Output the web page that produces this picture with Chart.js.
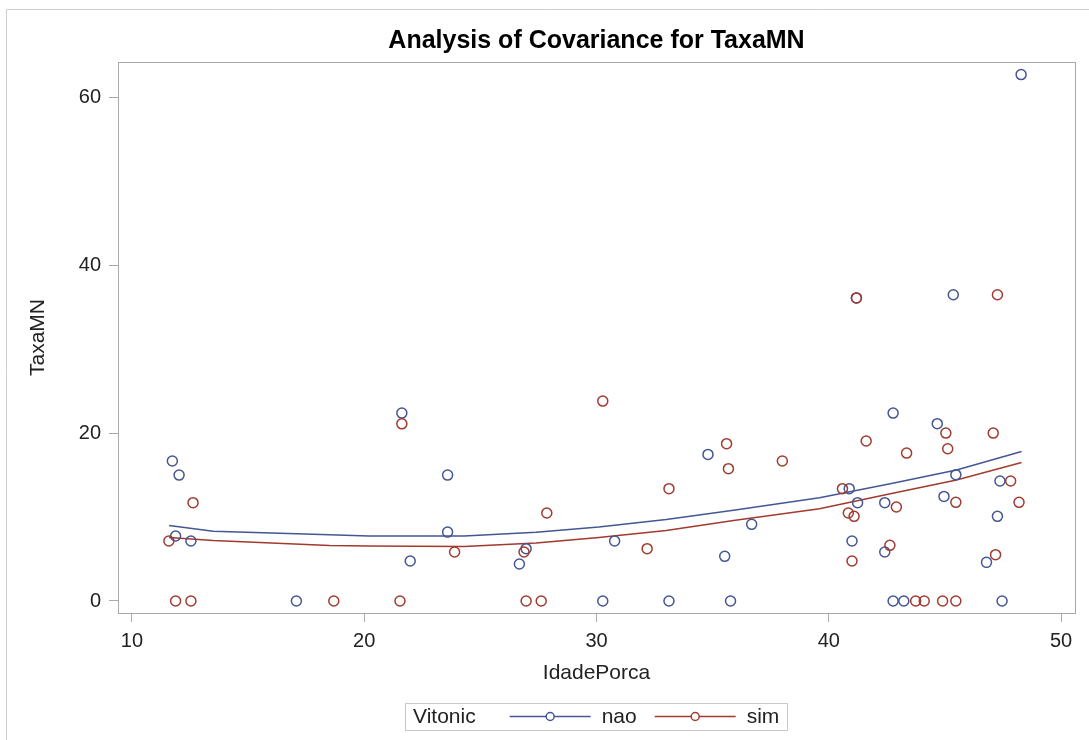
<!DOCTYPE html>
<html>
<head>
<meta charset="utf-8">
<title>Analysis of Covariance for TaxaMN</title>
<script src="https://cdn.jsdelivr.net/npm/chart.js@4.4.1/dist/chart.umd.min.js"></script>
<style>
  html, body { margin: 0; padding: 0; background: #fff; }
  canvas { display: block; }
</style>
</head>
<body>
<canvas id="chart" width="1089" height="740"></canvas>
<script>
// Groups of Vitonic
const groups = ['nao', 'sim'];
const legendTitle = 'Vitonic';
const chartTitle = 'Analysis of Covariance for TaxaMN';

// Observed points, group "nao"
const naoX = [11.74, 12.03, 11.88, 12.54, 17.08, 21.62, 23.59, 23.59, 21.98, 26.68, 26.97, 30.27,
    30.78, 34.8, 36.68, 35.52, 33.12, 35.77, 40.88, 41.24, 41.0, 42.77, 42.41, 42.41,
    44.67, 45.47, 44.96, 47.37, 47.26, 46.79, 42.77, 43.23, 47.46, 41.19, 45.36, 48.28];
const naoY = [16.67, 15.0, 7.74, 7.14, 0, 22.38, 15.0, 8.21, 4.76, 4.4, 6.23, 0,
    7.14, 17.46, 9.13, 5.32, 0, 0, 13.38, 11.71, 7.14, 22.38, 11.71, 5.83,
    21.12, 15.05, 12.46, 14.29, 10.08, 4.6, 0, 0, 0, 36.1, 36.48, 62.7];

// Observed points, group "sim"
const simX = [12.63, 11.59, 11.88, 12.54, 18.69, 21.62, 23.89, 27.86, 30.27, 26.88, 21.54, 26.97,
    27.62, 32.18, 33.12, 35.6, 35.68, 38.0, 40.59, 40.84, 41.09, 41.0, 41.61, 43.35,
    42.91, 42.63, 45.04, 45.12, 45.47, 47.08, 47.83, 48.19, 47.18, 43.74, 44.11, 44.9,
    45.47, 41.19, 47.26];
const simY = [11.71, 7.14, 0, 0, 0, 21.1, 5.83, 10.48, 23.81, 5.83, 0, 0,
    0, 6.23, 13.38, 18.74, 15.76, 16.67, 13.38, 10.48, 10.08, 4.76, 19.05, 17.62,
    11.19, 6.63, 20.0, 18.14, 11.75, 20.0, 14.29, 11.75, 5.52, 0, 0, 0,
    0, 36.1, 36.48];

// Fitted curves
const fitX = [11.6, 13.5, 16, 18.5, 20.2, 24.3, 27.4, 30.1, 33, 35.9, 39.6, 42.7, 45.5, 48.3];
const naoFit = [9.0, 8.3, 8.1, 7.9, 7.75, 7.75, 8.2, 8.8, 9.7, 10.8, 12.3, 14.0, 15.6, 17.8];
const simFit = [7.55, 7.2, 6.9, 6.6, 6.55, 6.5, 6.9, 7.55, 8.4, 9.6, 11.0, 12.8, 14.4, 16.5];

// Axis ticks
const xTicks = [10, 20, 30, 40, 50];
const yTicks = [0, 20, 40, 60];

const colors = { nao: '#445694', sim: '#A23A2E' };
const FONT = '"Liberation Sans", Arial, Helvetica, sans-serif';
const axisGray = '#a8a8a8';
const textColor = '#222';

Chart.defaults.font.family = FONT;

const toPoints = (xs, ys) => xs.map((x, i) => ({ x: x, y: ys[i] }));

// Frame around the picture, plot box, title over the plot and the inline legend
const framePlugin = {
    id: 'framePlugin',
    beforeDatasetsDraw(chart) {
        const { ctx, chartArea: a } = chart;
        ctx.save();
        ctx.strokeStyle = axisGray;
        ctx.lineWidth = 1;
        ctx.strokeRect(Math.round(a.left) + 0.5, Math.round(a.top) + 0.5,
            Math.round(a.right - a.left), Math.round(a.bottom - a.top));
        ctx.restore();
    },
    afterDraw(chart) {
        const { ctx, chartArea: a, width, height } = chart;
        const midX = (a.left + a.right) / 2;
        ctx.save();

        // outer frame (left and top edge only are visible)
        ctx.strokeStyle = '#cfcfcf';
        ctx.lineWidth = 1;
        ctx.beginPath();
        ctx.moveTo(6.5, height);
        ctx.lineTo(6.5, 9.5);
        ctx.lineTo(width, 9.5);
        ctx.stroke();

        // title, centred on the plot box
        ctx.font = 'bold 25px ' + FONT;
        ctx.fillStyle = '#000';
        ctx.textAlign = 'center';
        ctx.textBaseline = 'middle';
        ctx.fillText(chartTitle, midX, 41);

        // legend
        ctx.font = '21px ' + FONT;
        const pad = 8, gapTitle = 34, lineLen = 81, gapText = 11, gapItem = 18;
        const titleW = ctx.measureText(legendTitle).width;
        const itemW = groups.map(g => ctx.measureText(g).width);
        let total = pad + titleW + gapTitle + pad;
        itemW.forEach((w, i) => {
            total += lineLen + gapText + w + (i < groups.length - 1 ? gapItem : 0);
        });
        const boxTop = 703, boxH = 27;
        const left = Math.round(midX - total / 2);
        const cy = boxTop + boxH / 2;

        ctx.strokeStyle = '#c8c8c8';
        ctx.strokeRect(left + 0.5, boxTop + 0.5, Math.round(total), boxH);

        ctx.fillStyle = textColor;
        ctx.textBaseline = 'middle';
        ctx.textAlign = 'left';
        let x = left + pad;
        ctx.fillText(legendTitle, x, cy + 1);
        x += titleW + gapTitle;

        groups.forEach((g, i) => {
            ctx.strokeStyle = colors[g];
            ctx.lineWidth = 1.5;
            ctx.beginPath();
            ctx.moveTo(x, cy);
            ctx.lineTo(x + lineLen, cy);
            ctx.stroke();
            ctx.fillStyle = '#fff';
            ctx.beginPath();
            ctx.arc(x + lineLen / 2, cy, 4, 0, Math.PI * 2);
            ctx.fill();
            ctx.stroke();
            x += lineLen + gapText;
            ctx.fillStyle = textColor;
            ctx.fillText(g, x, cy + 1);
            x += itemW[i] + gapItem;
        });

        ctx.restore();
    }
};

const pointStyle = (g) => ({
    pointStyle: 'circle',
    pointRadius: 5,
    pointHoverRadius: 5,
    pointBorderWidth: 1.5,
    borderColor: colors[g],
    backgroundColor: 'rgba(0,0,0,0)',
    showLine: false
});

const lineStyle = (g) => ({
    showLine: true,
    pointRadius: 0,
    borderColor: colors[g],
    borderWidth: 1.5,
    tension: 0,
    fill: false
});

new Chart(document.getElementById('chart'), {
    type: 'scatter',
    data: {
        datasets: [
            { label: groups[0], data: toPoints(naoX, naoY), ...pointStyle('nao'), order: 2 },
            { label: groups[1], data: toPoints(simX, simY), ...pointStyle('sim'), order: 1 },
            { label: groups[0] + ' fit', data: toPoints(fitX, naoFit), ...lineStyle('nao'), order: 4 },
            { label: groups[1] + ' fit', data: toPoints(fitX, simFit), ...lineStyle('sim'), order: 3 }
        ]
    },
    options: {
        responsive: false,
        animation: false,
        events: [],
        layout: {
            padding: { left: 20, right: 14, top: 62, bottom: 50 }
        },
        plugins: {
            legend: { display: false },
            tooltip: { enabled: false },
            title: { display: false }
        },
        scales: {
            x: {
                type: 'linear',
                min: 9.4,
                max: 50.6,
                afterBuildTicks: s => { s.ticks = xTicks.map(v => ({ value: v })); },
                afterFit: s => { s.height = 77; },
                grid: {
                    display: true,
                    drawOnChartArea: false,
                    drawTicks: true,
                    tickLength: 9,
                    color: axisGray
                },
                border: { display: false },
                ticks: {
                    color: textColor,
                    font: { size: 20 },
                    padding: 7
                },
                title: {
                    display: true,
                    text: 'IdadePorca',
                    color: textColor,
                    font: { size: 21 },
                    padding: { top: 4, bottom: 4 }
                }
            },
            y: {
                type: 'linear',
                min: -1.43,
                max: 64.2,
                afterBuildTicks: s => { s.ticks = yTicks.map(v => ({ value: v })); },
                afterFit: s => { s.width = 98; },
                grid: {
                    display: true,
                    drawOnChartArea: false,
                    drawTicks: true,
                    tickLength: 9,
                    color: axisGray
                },
                border: { display: false },
                ticks: {
                    color: textColor,
                    font: { size: 20 },
                    padding: 8
                },
                title: {
                    display: true,
                    text: 'TaxaMN',
                    color: textColor,
                    font: { size: 21 },
                    padding: { top: 6, bottom: 4 }
                }
            }
        }
    },
    plugins: [framePlugin]
});
</script>
</body>
</html>
